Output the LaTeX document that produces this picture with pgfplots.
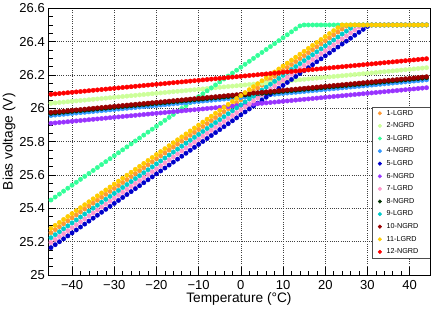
\documentclass[border=0pt]{standalone}
\usepackage{fontspec}
\setmainfont{Liberation Sans}
\usepackage{pgfplots}
\usepackage{pgfplotstable}
\pgfplotsset{compat=1.18}

\definecolor{c1}{RGB}{255,153,51}
\definecolor{c2}{RGB}{204,255,153}
\definecolor{c3}{RGB}{51,255,153}
\definecolor{c4}{RGB}{51,153,255}
\definecolor{c5}{RGB}{0,0,204}
\definecolor{c6}{RGB}{153,51,255}
\definecolor{c7}{RGB}{255,153,204}
\definecolor{c8}{RGB}{0,51,0}
\definecolor{c9}{RGB}{0,204,204}
\definecolor{c10}{RGB}{153,0,0}
\definecolor{c11}{RGB}{255,204,0}
\definecolor{c12}{RGB}{255,0,0}

% LGRD channels (1,3,5,7,9,11)
\pgfplotstableread{
T v1 v3 v5 v7 v9 v11
-45 25.2540 25.4500 25.1640 25.1950 25.2240 25.2800
-44 25.2717 25.4677 25.1817 25.2127 25.2417 25.2977
-43 25.2894 25.4854 25.1994 25.2304 25.2594 25.3154
-42 25.3071 25.5031 25.2171 25.2481 25.2771 25.3331
-41 25.3248 25.5208 25.2348 25.2658 25.2948 25.3508
-40 25.3425 25.5385 25.2525 25.2835 25.3125 25.3685
-39 25.3602 25.5562 25.2702 25.3012 25.3302 25.3862
-38 25.3779 25.5739 25.2879 25.3189 25.3479 25.4039
-37 25.3956 25.5916 25.3056 25.3366 25.3656 25.4216
-36 25.4133 25.6093 25.3233 25.3543 25.3833 25.4393
-35 25.4310 25.6270 25.3410 25.3720 25.4010 25.4570
-34 25.4487 25.6447 25.3587 25.3897 25.4187 25.4747
-33 25.4664 25.6624 25.3764 25.4074 25.4364 25.4924
-32 25.4841 25.6801 25.3941 25.4251 25.4541 25.5101
-31 25.5018 25.6978 25.4118 25.4428 25.4718 25.5278
-30 25.5195 25.7155 25.4295 25.4605 25.4895 25.5455
-29 25.5372 25.7332 25.4472 25.4782 25.5072 25.5632
-28 25.5549 25.7509 25.4649 25.4959 25.5249 25.5809
-27 25.5726 25.7686 25.4826 25.5136 25.5426 25.5986
-26 25.5903 25.7863 25.5003 25.5313 25.5603 25.6163
-25 25.6080 25.8040 25.5180 25.5490 25.5780 25.6340
-24 25.6257 25.8217 25.5357 25.5667 25.5957 25.6517
-23 25.6434 25.8394 25.5534 25.5844 25.6134 25.6694
-22 25.6611 25.8571 25.5711 25.6021 25.6311 25.6871
-21 25.6788 25.8748 25.5888 25.6198 25.6488 25.7048
-20 25.6965 25.8925 25.6065 25.6375 25.6665 25.7225
-19 25.7142 25.9102 25.6242 25.6552 25.6842 25.7402
-18 25.7319 25.9279 25.6419 25.6729 25.7019 25.7579
-17 25.7496 25.9456 25.6596 25.6906 25.7196 25.7756
-16 25.7673 25.9633 25.6773 25.7083 25.7373 25.7933
-15 25.7850 25.9810 25.6950 25.7260 25.7550 25.8110
-14 25.8027 25.9987 25.7127 25.7437 25.7727 25.8287
-13 25.8204 26.0164 25.7304 25.7614 25.7904 25.8464
-12 25.8381 26.0341 25.7481 25.7791 25.8081 25.8641
-11 25.8558 26.0518 25.7658 25.7968 25.8258 25.8818
-10 25.8735 26.0695 25.7835 25.8145 25.8435 25.8995
-9 25.8912 26.0872 25.8012 25.8322 25.8612 25.9172
-8 25.9089 26.1049 25.8189 25.8499 25.8789 25.9349
-7 25.9266 26.1226 25.8366 25.8676 25.8966 25.9526
-6 25.9443 26.1403 25.8543 25.8853 25.9143 25.9703
-5 25.9620 26.1580 25.8720 25.9030 25.9320 25.9880
-4 25.9797 26.1757 25.8897 25.9207 25.9497 26.0057
-3 25.9974 26.1934 25.9074 25.9384 25.9674 26.0234
-2 26.0151 26.2111 25.9251 25.9561 25.9851 26.0411
-1 26.0328 26.2288 25.9428 25.9738 26.0028 26.0588
0 26.0505 26.2465 25.9605 25.9915 26.0205 26.0765
1 26.0682 26.2642 25.9782 26.0092 26.0382 26.0942
2 26.0859 26.2819 25.9959 26.0269 26.0559 26.1119
3 26.1036 26.2996 26.0136 26.0446 26.0736 26.1296
4 26.1213 26.3173 26.0313 26.0623 26.0913 26.1473
5 26.1390 26.3350 26.0490 26.0800 26.1090 26.1650
6 26.1567 26.3527 26.0667 26.0977 26.1267 26.1827
7 26.1744 26.3704 26.0844 26.1154 26.1444 26.2004
8 26.1921 26.3881 26.1021 26.1331 26.1621 26.2181
9 26.2098 26.4058 26.1198 26.1508 26.1798 26.2358
10 26.2275 26.4235 26.1375 26.1685 26.1975 26.2535
11 26.2452 26.4412 26.1552 26.1862 26.2152 26.2712
12 26.2629 26.4589 26.1729 26.2039 26.2329 26.2889
13 26.2806 26.4766 26.1906 26.2216 26.2506 26.3066
14 26.2983 26.4943 26.2083 26.2393 26.2683 26.3243
15 26.3160 26.5000 26.2260 26.2570 26.2860 26.3420
16 26.3337 26.5000 26.2437 26.2747 26.3037 26.3597
17 26.3514 26.5000 26.2614 26.2924 26.3214 26.3774
18 26.3691 26.5000 26.2791 26.3101 26.3391 26.3951
19 26.3868 26.5000 26.2968 26.3278 26.3568 26.4128
20 26.4045 26.5000 26.3145 26.3455 26.3745 26.4305
21 26.4222 26.5000 26.3322 26.3632 26.3922 26.4482
22 26.4399 26.5000 26.3499 26.3809 26.4099 26.4659
23 26.4576 26.5000 26.3676 26.3986 26.4276 26.4836
24 26.4753 26.5000 26.3853 26.4163 26.4453 26.5000
25 26.4930 26.5000 26.4030 26.4340 26.4630 26.5000
26 26.5000 26.5000 26.4207 26.4517 26.4807 26.5000
27 26.5000 26.5000 26.4384 26.4694 26.4984 26.5000
28 26.5000 26.5000 26.4561 26.4871 26.5000 26.5000
29 26.5000 26.5000 26.4738 26.5000 26.5000 26.5000
30 26.5000 26.5000 26.4915 26.5000 26.5000 26.5000
31 26.5000 26.5000 26.5000 26.5000 26.5000 26.5000
32 26.5000 26.5000 26.5000 26.5000 26.5000 26.5000
33 26.5000 26.5000 26.5000 26.5000 26.5000 26.5000
34 26.5000 26.5000 26.5000 26.5000 26.5000 26.5000
35 26.5000 26.5000 26.5000 26.5000 26.5000 26.5000
36 26.5000 26.5000 26.5000 26.5000 26.5000 26.5000
37 26.5000 26.5000 26.5000 26.5000 26.5000 26.5000
38 26.5000 26.5000 26.5000 26.5000 26.5000 26.5000
39 26.5000 26.5000 26.5000 26.5000 26.5000 26.5000
40 26.5000 26.5000 26.5000 26.5000 26.5000 26.5000
41 26.5000 26.5000 26.5000 26.5000 26.5000 26.5000
42 26.5000 26.5000 26.5000 26.5000 26.5000 26.5000
43 26.5000 26.5000 26.5000 26.5000 26.5000 26.5000
44 26.5000 26.5000 26.5000 26.5000 26.5000 26.5000
45 26.5000 26.5000 26.5000 26.5000 26.5000 26.5000
}\lgrd

% NGRD channels (2,4,6,8,10,12)
\pgfplotstableread{
T v2 v4 v6 v8 v10 v12
-45 26.0300 25.9570 25.9100 25.9700 25.9760 26.0840
-44 26.0324 25.9594 25.9124 25.9724 25.9784 26.0864
-43 26.0348 25.9618 25.9148 25.9748 25.9808 26.0888
-42 26.0372 25.9642 25.9172 25.9772 25.9832 26.0912
-41 26.0396 25.9666 25.9196 25.9796 25.9856 26.0936
-40 26.0420 25.9690 25.9220 25.9820 25.9880 26.0960
-39 26.0444 25.9714 25.9244 25.9844 25.9904 26.0984
-38 26.0468 25.9738 25.9268 25.9868 25.9928 26.1008
-37 26.0492 25.9762 25.9292 25.9892 25.9952 26.1032
-36 26.0516 25.9786 25.9316 25.9916 25.9976 26.1056
-35 26.0540 25.9810 25.9340 25.9940 26.0000 26.1080
-34 26.0564 25.9834 25.9364 25.9964 26.0024 26.1104
-33 26.0588 25.9858 25.9388 25.9988 26.0048 26.1128
-32 26.0612 25.9882 25.9412 26.0012 26.0072 26.1152
-31 26.0636 25.9906 25.9436 26.0036 26.0096 26.1176
-30 26.0660 25.9930 25.9460 26.0060 26.0120 26.1200
-29 26.0684 25.9954 25.9484 26.0084 26.0144 26.1224
-28 26.0708 25.9978 25.9508 26.0108 26.0168 26.1248
-27 26.0732 26.0002 25.9532 26.0132 26.0192 26.1272
-26 26.0756 26.0026 25.9556 26.0156 26.0216 26.1296
-25 26.0780 26.0050 25.9580 26.0180 26.0240 26.1320
-24 26.0804 26.0074 25.9604 26.0204 26.0264 26.1344
-23 26.0828 26.0098 25.9628 26.0228 26.0288 26.1368
-22 26.0852 26.0122 25.9652 26.0252 26.0312 26.1392
-21 26.0876 26.0146 25.9676 26.0276 26.0336 26.1416
-20 26.0900 26.0170 25.9700 26.0300 26.0360 26.1440
-19 26.0924 26.0194 25.9724 26.0324 26.0384 26.1464
-18 26.0948 26.0218 25.9748 26.0348 26.0408 26.1488
-17 26.0972 26.0242 25.9772 26.0372 26.0432 26.1512
-16 26.0996 26.0266 25.9796 26.0396 26.0456 26.1536
-15 26.1020 26.0290 25.9820 26.0420 26.0480 26.1560
-14 26.1044 26.0314 25.9844 26.0444 26.0504 26.1584
-13 26.1068 26.0338 25.9868 26.0468 26.0528 26.1608
-12 26.1092 26.0362 25.9892 26.0492 26.0552 26.1632
-11 26.1116 26.0386 25.9916 26.0516 26.0576 26.1656
-10 26.1140 26.0410 25.9940 26.0540 26.0600 26.1680
-9 26.1164 26.0434 25.9964 26.0564 26.0624 26.1704
-8 26.1188 26.0458 25.9988 26.0588 26.0648 26.1728
-7 26.1212 26.0482 26.0012 26.0612 26.0672 26.1752
-6 26.1236 26.0506 26.0036 26.0636 26.0696 26.1776
-5 26.1260 26.0530 26.0060 26.0660 26.0720 26.1800
-4 26.1284 26.0554 26.0084 26.0684 26.0744 26.1824
-3 26.1308 26.0578 26.0108 26.0708 26.0768 26.1848
-2 26.1332 26.0602 26.0132 26.0732 26.0792 26.1872
-1 26.1356 26.0626 26.0156 26.0756 26.0816 26.1896
0 26.1380 26.0650 26.0180 26.0780 26.0840 26.1920
1 26.1404 26.0674 26.0204 26.0804 26.0864 26.1944
2 26.1428 26.0698 26.0228 26.0828 26.0888 26.1968
3 26.1452 26.0722 26.0252 26.0852 26.0912 26.1992
4 26.1476 26.0746 26.0276 26.0876 26.0936 26.2016
5 26.1500 26.0770 26.0300 26.0900 26.0960 26.2040
6 26.1524 26.0794 26.0324 26.0924 26.0984 26.2064
7 26.1548 26.0818 26.0348 26.0948 26.1008 26.2088
8 26.1572 26.0842 26.0372 26.0972 26.1032 26.2112
9 26.1596 26.0866 26.0396 26.0996 26.1056 26.2136
10 26.1620 26.0890 26.0420 26.1020 26.1080 26.2160
11 26.1644 26.0914 26.0444 26.1044 26.1104 26.2184
12 26.1668 26.0938 26.0468 26.1068 26.1128 26.2208
13 26.1692 26.0962 26.0492 26.1092 26.1152 26.2232
14 26.1716 26.0986 26.0516 26.1116 26.1176 26.2256
15 26.1740 26.1010 26.0540 26.1140 26.1200 26.2280
16 26.1764 26.1034 26.0564 26.1164 26.1224 26.2304
17 26.1788 26.1058 26.0588 26.1188 26.1248 26.2328
18 26.1812 26.1082 26.0612 26.1212 26.1272 26.2352
19 26.1836 26.1106 26.0636 26.1236 26.1296 26.2376
20 26.1860 26.1130 26.0660 26.1260 26.1320 26.2400
21 26.1884 26.1154 26.0684 26.1284 26.1344 26.2424
22 26.1908 26.1178 26.0708 26.1308 26.1368 26.2448
23 26.1932 26.1202 26.0732 26.1332 26.1392 26.2472
24 26.1956 26.1226 26.0756 26.1356 26.1416 26.2496
25 26.1980 26.1250 26.0780 26.1380 26.1440 26.2520
26 26.2004 26.1274 26.0804 26.1404 26.1464 26.2544
27 26.2028 26.1298 26.0828 26.1428 26.1488 26.2568
28 26.2052 26.1322 26.0852 26.1452 26.1512 26.2592
29 26.2076 26.1346 26.0876 26.1476 26.1536 26.2616
30 26.2100 26.1370 26.0900 26.1500 26.1560 26.2640
31 26.2124 26.1394 26.0924 26.1524 26.1584 26.2664
32 26.2148 26.1418 26.0948 26.1548 26.1608 26.2688
33 26.2172 26.1442 26.0972 26.1572 26.1632 26.2712
34 26.2196 26.1466 26.0996 26.1596 26.1656 26.2736
35 26.2220 26.1490 26.1020 26.1620 26.1680 26.2760
36 26.2244 26.1514 26.1044 26.1644 26.1704 26.2784
37 26.2268 26.1538 26.1068 26.1668 26.1728 26.2808
38 26.2292 26.1562 26.1092 26.1692 26.1752 26.2832
39 26.2316 26.1586 26.1116 26.1716 26.1776 26.2856
40 26.2340 26.1610 26.1140 26.1740 26.1800 26.2880
41 26.2364 26.1634 26.1164 26.1764 26.1824 26.2904
42 26.2388 26.1658 26.1188 26.1788 26.1848 26.2928
43 26.2412 26.1682 26.1212 26.1812 26.1872 26.2952
44 26.2436 26.1706 26.1236 26.1836 26.1896 26.2976
45 26.2460 26.1730 26.1260 26.1860 26.1920 26.3000
}\ngrd

\begin{document}
\begin{tikzpicture}
\begin{axis}[
  scale only axis, width=381.9pt, height=266.7pt,
  xmin=-45.7, xmax=44.8, ymin=25, ymax=26.6,
  xtick={-40,-30,-20,-10,0,10,20,30,40},
  xticklabels={−40,−30,−20,−10,0,10,20,30,40},
  ytick={25,25.2,25.4,25.6,25.8,26,26.2,26.4,26.6},
  yticklabels={25,25.2,25.4,25.6,25.8,26,26.2,26.4,26.6},
  minor x tick num=4, minor y tick num=3,
  xtick pos=left, ytick pos=left,
  tick align=inside, major tick length=8pt, minor tick length=4.5pt,
  tick style={black, line width=0.6pt},
  axis line style={black, line width=0.8pt},
  grid=major,
  major grid style={black!75, line width=0.6pt, dash pattern=on 0.7pt off 1.5pt},
  ticklabel style={font=\fontsize{13}{15}\selectfont},
  xticklabel style={anchor=north, inner sep=0pt, yshift=-5pt},
  yticklabel style={anchor=east, inner sep=0pt, xshift=-3pt},
  xlabel={Temperature (°C)},
  ylabel={Bias voltage (V)},
  label style={font=\fontsize{13.7}{16}\selectfont, inner sep=0pt},
  xlabel style={at={(rel axis cs:0.5,0)}, anchor=north, yshift=-17pt},
  ylabel style={at={(rel axis cs:0,0.5)}, anchor=north, yshift=45.5pt},
  every axis plot/.append style={only marks, mark=*, mark size=2.2pt},
  legend cell align=left,
  legend image code/.code={\draw[only marks, #1, mark size=1.8pt] plot coordinates {(0pt,0pt)};},
  legend style={at={(rel axis cs:0.848,0.630)}, anchor=north west,
    draw=none, fill=none, inner xsep=6pt, inner ysep=3pt, row sep=6.4pt,
    font=\fontsize{7.2}{8}\selectfont,
    nodes={inner sep=0pt, text height=5pt, text depth=1.2pt},
    /tikz/every odd column/.append style={column sep=5pt}},
]
\addplot[c1] table[x=T, y=v1] {\lgrd};
\addplot[c2] table[x=T, y=v2] {\ngrd};
\addplot[c3] table[x=T, y=v3] {\lgrd};
\addplot[c4] table[x=T, y=v4] {\ngrd};
\addplot[c5] table[x=T, y=v5] {\lgrd};
\addplot[c6] table[x=T, y=v6] {\ngrd};
\addplot[c7] table[x=T, y=v7] {\lgrd};
\addplot[c8] table[x=T, y=v8] {\ngrd};
\addplot[c9] table[x=T, y=v9] {\lgrd};
\addplot[c10] table[x=T, y=v10] {\ngrd};
\addplot[c11] table[x=T, y=v11] {\lgrd};
\addplot[c12] table[x=T, y=v12] {\ngrd};
\legend{1-LGRD,2-NGRD,3-LGRD,4-NGRD,5-LGRD,6-NGRD,7-LGRD,8-NGRD,9-LGRD,10-NGRD,11-LGRD,12-NGRD}
\draw[black!70, line width=0.6pt, fill=white] (rel axis cs:0.848,0.064) rectangle (rel axis cs:1,0.630);
\end{axis}
\pgfresetboundingbox
\path[use as bounding box] ([xshift=-48pt,yshift=-33pt]current axis.south west) rectangle ([xshift=6.1pt,yshift=8.3pt]current axis.north east);
\end{tikzpicture}
\end{document}
